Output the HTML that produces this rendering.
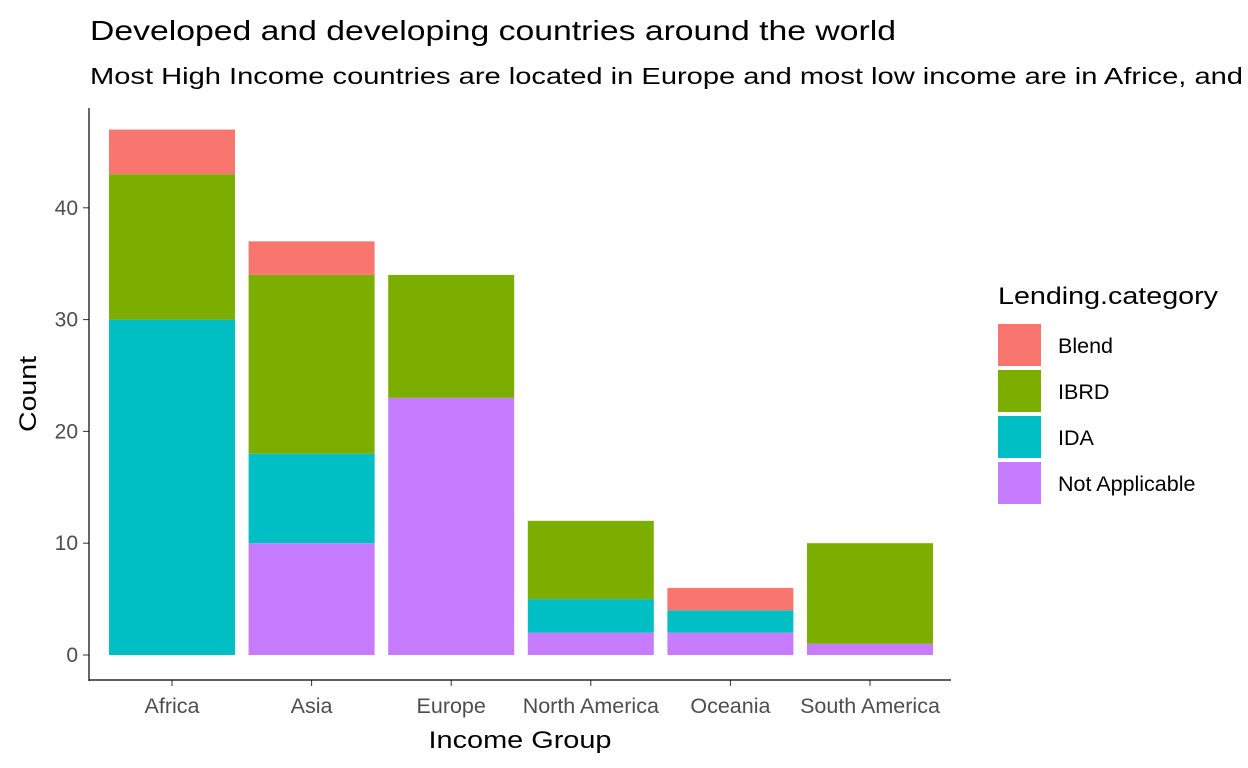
<!DOCTYPE html>
<html><head><meta charset="utf-8"><style>
body{margin:0;background:#fff;font-family:"Liberation Sans",sans-serif}
svg{display:block}
</style></head><body>
<svg id="chart" width="1248" height="768">
<text x="90" y="40" font-size="28" fill="#000" textLength="806" lengthAdjust="spacingAndGlyphs">Developed and developing countries around the world</text>
<text x="90" y="84" font-size="23" fill="#000" textLength="1153" lengthAdjust="spacingAndGlyphs">Most High Income countries are located in Europe and most low income are in Africe, and</text>
<g id="bars"></g>
<g id="yaxis"></g>
<g id="xaxis"></g>
<line x1="89" y1="108" x2="89" y2="681" stroke="#000" stroke-width="1.2"/>
<line x1="89" y1="680" x2="951" y2="680" stroke="#000" stroke-width="1.2"/>
<text x="520" y="748" font-size="24" text-anchor="middle" textLength="183" lengthAdjust="spacingAndGlyphs">Income Group</text>
<text transform="translate(36,394) rotate(-90)" font-size="24" text-anchor="middle" textLength="76" lengthAdjust="spacingAndGlyphs">Count</text>
<text x="998" y="304" font-size="24" textLength="220" lengthAdjust="spacingAndGlyphs">Lending.category</text>
<g id="legend"></g>
</svg>
<script>
const categories=["Africa","Asia","Europe","North America","Oceania","South America"];
const seriesNames=["Not Applicable","IDA","IBRD","Blend"];
const notApplicable=[0,10,23,2,2,1];
const ida=[30,8,0,3,2,0];
const ibrd=[13,16,11,7,0,9];
const blend=[4,3,0,0,2,0];
const yTicks=[0,10,20,30,40];
const colors={"Blend":"#F8766D","IBRD":"#7CAE00","IDA":"#00BFC4","Not Applicable":"#C77CFF"};
const series=[notApplicable,ida,ibrd,blend];
const ns="http://www.w3.org/2000/svg";
const y=v=>655-v*11.18;
const step=139.6, bw=126;
const x=i=>109+i*step;
function mk(tag,attrs,parent){const e=document.createElementNS(ns,tag);for(const k in attrs)e.setAttribute(k,attrs[k]);parent.appendChild(e);return e;}
const gb=document.getElementById('bars');
categories.forEach((c,i)=>{
  let base=0;
  series.forEach((s,j)=>{
    const v=s[i]; if(v<=0)return;
    const r=mk('rect',{x:x(i),y:y(base+v),width:bw,height:y(base)-y(base+v),fill:colors[seriesNames[j]]},gb);
    
    
    base+=v;
  });
  const t=mk('text',{x:x(i)+bw/2,y:713,'font-size':21.5,'text-anchor':'middle',fill:'#4d4d4d'},document.getElementById('xaxis'));
  t.textContent=c;
  
  
  const tk=mk('line',{x1:x(i)+bw/2,x2:x(i)+bw/2,y1:680,y2:686,stroke:'#333'},document.getElementById('xaxis'));
  
  
});
const gy=document.getElementById('yaxis');
yTicks.forEach(v=>{
  const t=mk('text',{x:78,y:y(v)+7,'font-size':21,'text-anchor':'end',fill:'#4d4d4d'},gy);
  t.textContent=v;
  
  
  const l=mk('line',{x1:83,x2:89,y1:y(v),y2:y(v),stroke:'#333'},gy);
  
  
});
const gl=document.getElementById('legend');
["Blend","IBRD","IDA","Not Applicable"].forEach((n,k)=>{
  const ky=324+k*46;
  const r=mk('rect',{x:998,y:ky,width:43,height:42,fill:colors[n]},gl);
  
  
  const t=mk('text',{x:1058,y:ky+29,'font-size':21.5},gl);
  t.textContent=n;
  
  
});
</script>
</body></html>
